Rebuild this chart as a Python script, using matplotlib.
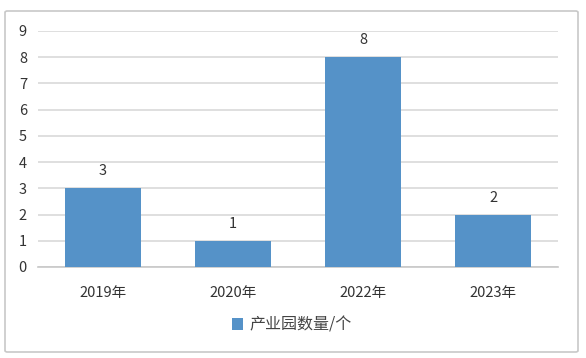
import matplotlib.pyplot as plt
from matplotlib.patches import FancyBboxPatch

plt.rcParams['font.family'] = ['Noto Sans CJK SC', 'DejaVu Sans']

years = ['2019年', '2020年', '2022年', '2023年']
counts = [3, 1, 8, 2]
series_name = '产业园数量/个'
bar_color = '#5592c8'

fig = plt.figure(figsize=(5.86, 3.58), dpi=100)
ax = fig.add_axes([38/586, 1-267/358, 520/586, 236/358])

# chart frame
frame = FancyBboxPatch((5/586, 6/358), 573/586, 341/358,
                       boxstyle='round,pad=0,rounding_size=0.004',
                       transform=fig.transFigure, fill=False,
                       edgecolor='#c8c8c8', linewidth=1.2)
fig.patches.append(frame)

x = range(len(years))
bars = ax.bar(x, counts, width=0.577, color=bar_color, zorder=3, label=series_name)
for xi, v in zip(x, counts):
    ax.text(xi, v + 0.38, str(v), ha='center', va='bottom', fontsize=10.5, color='#333333')

ax.set_xlim(-0.5, len(years) - 0.5)
ax.set_ylim(0, 9)
ax.set_yticks(range(10))
ax.set_xticks(list(x))
ax.set_xticklabels(years)
ax.tick_params(axis='both', length=0, labelsize=10.5, colors='#333333')
ax.tick_params(axis='y', pad=8)
ax.tick_params(axis='x', pad=14)
ax.grid(axis='y', color='#d9d9d9', linewidth=1.2, zorder=0)
for side in ['top', 'right', 'left']:
    ax.spines[side].set_visible(False)
ax.spines['bottom'].set_color('#c8c8c8')
ax.spines['bottom'].set_linewidth(1.2)

fig.legend(handles=[bars], labels=[series_name], loc='center',
           bbox_to_anchor=(292/586, 1-325/358), frameon=False, fontsize=11.5,
           handlelength=0.7, handleheight=0.7, handletextpad=0.4,
           labelcolor='#444444')

fig.savefig('out.png', dpi=100)
